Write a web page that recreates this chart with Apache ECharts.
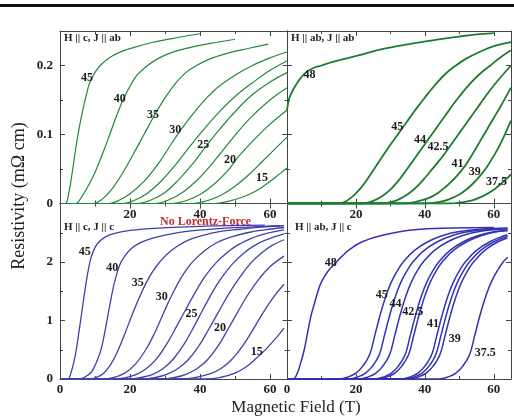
<!DOCTYPE html>
<html><head><meta charset="utf-8">
<script src="https://cdn.jsdelivr.net/npm/echarts@6/dist/echarts.min.js"></script>
<style>html,body{margin:0;padding:0;background:#fff}#c{width:514px;height:418px}</style>
</head><body><div id="c"></div>
<script>
// ---------------- DATA (field B in T, resistivity in mOhm cm) ----------------
// Top-left: H || c, J || ab
const tlNames = ['45','40','35','30','27.5','25','22.5','20','17.5','15'];
const tl45 = [[0,0],[1.5,0],[2.5,0.015],[3.5,0.045],[4.5,0.08],[5.5,0.11],[6.5,0.135],[7.5,0.157],[8.5,0.175],[10,0.19],[11.5,0.2],[14,0.211],[17,0.219],[21,0.226],[26,0.233],[32,0.239],[40,0.246]];
const tl40 = [[0,0],[4.5,0],[6,0.008],[8,0.025],[10,0.045],[12,0.07],[14,0.097],[16,0.125],[18,0.15],[20,0.17],[22,0.186],[25,0.2],[28,0.21],[32,0.219],[37,0.226],[43,0.232],[50,0.238]];
const tl35 = [[0,0],[9.5,0],[12,0.006],[15,0.022],[18,0.045],[21,0.072],[24,0.1],[27,0.128],[30,0.153],[33,0.174],[36,0.19],[39,0.2],[43,0.21],[48,0.218],[54,0.225],[59.5,0.231]];
const tl30 = [[0,0],[14,0],[17,0.005],[20,0.014],[24,0.032],[28,0.057],[32,0.088],[35,0.11],[38,0.13],[41,0.148],[45,0.168],[50,0.186],[55,0.2],[60,0.211],[65,0.22]];
const tl275 = [[0,0],[18,0],[21,0.004],[25,0.015],[29,0.033],[33,0.056],[37,0.082],[41,0.107],[45,0.13],[50,0.155],[55,0.175],[60,0.193],[65,0.207]];
const tl25 = [[0,0],[22,0],[26,0.005],[30,0.016],[34,0.035],[38,0.058],[42,0.085],[46,0.11],[50,0.133],[55,0.158],[60,0.176],[65,0.19]];
const tl225 = [[0,0],[27,0],[31,0.005],[35,0.016],[39,0.033],[43,0.055],[47,0.08],[51,0.105],[55,0.127],[60,0.15],[65,0.168]];
const tl20 = [[0,0],[32,0],[36,0.004],[40,0.013],[44,0.028],[48,0.048],[51,0.068],[55,0.09],[60,0.115],[65,0.136]];
const tl175 = [[0,0],[38,0],[42,0.004],[46,0.012],[50,0.025],[54,0.042],[58,0.062],[62,0.082],[65,0.097]];
const tl15 = [[0,0],[44,0],[48,0.003],[52,0.009],[56,0.018],[60,0.032],[63,0.044],[65,0.052]];
const tlLabelText = ['45','40','35','30','25','20','15'];
const tlLabelAt = [[7.7,0.182],[17.1,0.151],[26.6,0.128],[32.9,0.107],[40.9,0.085],[48.6,0.063],[57.7,0.037]];

// Top-right: H || ab, J || ab
const trNames = ['48','45','44','42.5','41','39','37.5'];
const tr48 = [[0,0.135],[0.5,0.15],[1,0.157],[2,0.167],[3,0.175],[4,0.182],[5.5,0.19],[7.5,0.196],[10,0.2],[13,0.205],[17,0.21],[21,0.215],[26,0.222],[32,0.228],[38,0.233],[44,0.238],[50,0.242],[55,0.245],[60,0.247]];
const tr45 = [[0,0],[15,0],[17,0.003],[19,0.01],[21,0.02],[23,0.033],[25,0.048],[27,0.063],[29,0.078],[31,0.092],[33,0.106],[35,0.12],[37,0.134],[39,0.147],[41,0.16],[43,0.172],[46,0.188],[49,0.2],[52,0.21],[56,0.22],[60,0.228],[65,0.234]];
const tr44 = [[0,0],[22,0],[24,0.002],[26,0.006],[28,0.012],[30,0.02],[32,0.031],[34,0.044],[36,0.058],[38,0.072],[40,0.086],[42,0.1],[44,0.114],[46,0.128],[48,0.142],[50,0.155],[53,0.173],[56,0.188],[59,0.2],[62,0.212],[65,0.222]];
const tr425 = [[0,0],[28,0],[30,0.002],[32,0.005],[34,0.01],[36,0.017],[38,0.026],[40,0.037],[42,0.049],[44,0.061],[46,0.074],[48,0.088],[50,0.102],[52,0.116],[54,0.13],[56,0.144],[58,0.158],[60,0.171],[62,0.183],[65,0.2]];
const tr41 = [[0,0],[34,0],[37,0.002],[40,0.006],[42,0.01],[44,0.016],[46,0.024],[48,0.033],[50,0.044],[52,0.057],[54,0.073],[56,0.09],[58,0.107],[60,0.124],[62,0.141],[65,0.168]];
const tr39 = [[0,0],[40,0],[44,0.002],[47,0.006],[50,0.013],[52,0.02],[54,0.029],[56,0.04],[58,0.053],[60,0.069],[62,0.087],[65,0.12]];
const tr375 = [[0,0],[47,0],[51,0.002],[54,0.005],[57,0.011],[60,0.02],[62,0.028],[65,0.042]];
const trLabelText = ['48','45','44','42.5','41','39','37.5'];
const trLabelAt = [[6.5,0.186],[32,0.111],[38.6,0.092],[43.8,0.082],[49.5,0.058],[54.5,0.046],[60.8,0.032]];

// Bottom-left: H || c, J || c
const blNames = ['45','40','35','30','27.5','25','22.5','20','17.5','15'];
const bl45 = [[0,0],[2.3,0],[3,0.08],[4,0.3],[4.7,0.52],[5.4,0.8],[6.1,1.09],[6.8,1.38],[7.5,1.66],[8.2,1.9],[8.9,2.08],[9.8,2.22],[10.9,2.33],[13,2.43],[15.6,2.49],[20,2.54],[28,2.58],[40,2.61],[58.5,2.63]];
const bl40 = [[0,0],[5,0],[7,0.03],[9,0.12],[10.5,0.3],[11.8,0.52],[12.8,0.8],[13.7,1.09],[14.6,1.38],[15.6,1.66],[17,1.94],[18.5,2.1],[20.4,2.23],[23,2.33],[26,2.4],[30,2.46],[35.6,2.52],[45,2.57],[55,2.6],[63,2.62]];
const bl35 = [[0,0],[8.5,0],[10.5,0.03],[12.5,0.1],[14.5,0.25],[16.5,0.48],[18.5,0.77],[20.5,1.08],[22.5,1.37],[24.5,1.63],[26.5,1.84],[28.5,2.0],[30.5,2.13],[33.5,2.27],[36.5,2.37],[40.5,2.45],[45.5,2.52],[51.5,2.56],[58.5,2.6],[64,2.62]];
const bl30 = [[0,0],[12.5,0],[15.5,0.03],[18.5,0.1],[21.5,0.25],[24.5,0.5],[26.5,0.72],[28.5,0.98],[30.5,1.25],[32.5,1.5],[34.5,1.72],[36.5,1.9],[38.5,2.04],[41.5,2.2],[44.5,2.32],[48.5,2.42],[53.5,2.5],[58.5,2.55],[64,2.59]];
const bl275 = [[0,0],[15.5,0],[18.5,0.02],[21.5,0.07],[24.5,0.17],[27.5,0.34],[30.5,0.6],[33.5,0.92],[35.5,1.14],[37.5,1.36],[39.5,1.57],[41.5,1.76],[44.5,1.98],[47.5,2.15],[50.5,2.28],[54.5,2.4],[58.5,2.48],[64,2.55]];
const bl25 = [[0,0],[19.5,0],[23.5,0.03],[26.5,0.08],[29.5,0.18],[32.5,0.35],[35.5,0.6],[38.5,0.92],[40.5,1.15],[42.5,1.37],[44.5,1.58],[46.5,1.76],[49.5,1.98],[52.5,2.15],[55.5,2.28],[58.5,2.37],[64,2.48]];
const bl225 = [[0,0],[23.5,0],[27.5,0.03],[30.5,0.08],[33.5,0.17],[36.5,0.32],[39.5,0.55],[42.5,0.85],[45.5,1.17],[48.5,1.48],[51.5,1.75],[54.5,1.98],[57.5,2.15],[60.5,2.28],[64,2.38]];
const bl20 = [[0,0],[29,0],[33,0.03],[36,0.08],[39,0.17],[42,0.32],[45,0.55],[48,0.85],[51,1.17],[54,1.47],[57,1.72],[60,1.92],[64,2.1]];
const bl175 = [[0,0],[35,0],[39,0.03],[43,0.09],[46,0.18],[49,0.33],[52,0.55],[55,0.83],[58,1.13],[61,1.4],[64,1.62]];
const bl15 = [[0,0],[42,0],[46,0.03],[50,0.1],[53,0.2],[56,0.35],[59,0.52],[62,0.72],[64,0.87]];
const blLabelText = ['45','40','35','30','25','20','15'];
const blLabelAt = [[7.1,2.18],[14.9,1.90],[22.2,1.65],[29.1,1.41],[37.6,1.12],[45.7,0.87],[56.2,0.47]];

// Bottom-right: H || ab, J || c
const brNames = ['48','45','44','42.5','41','41','39','39','39','37.5'];
const br48 = [[0,0],[1.8,0],[3,0.1],[4,0.28],[5,0.5],[6,0.8],[7,1.09],[8,1.3],[9,1.5],[10,1.66],[12,1.85],[14,1.98],[16,2.1],[18.3,2.22],[22,2.35],[28,2.46],[37,2.55],[48,2.58],[60,2.59]];
const br45 = [[0,0],[15,0],[18,0.04],[20,0.1],[22,0.22],[24,0.42],[25.5,0.75],[27,1.09],[28.7,1.42],[30.3,1.66],[32,1.85],[34,2.02],[37,2.2],[41,2.35],[45,2.45],[50,2.52],[56,2.56],[64,2.58]];
const br44 = [[0,0],[17.8,0],[20.8,0.04],[22.8,0.1],[24.8,0.22],[26.8,0.42],[28.3,0.75],[29.8,1.09],[31.5,1.42],[33.1,1.66],[34.8,1.85],[36.8,2.02],[39.8,2.2],[43.8,2.35],[47.8,2.45],[52.8,2.52],[58.8,2.56],[64,2.57]];
const br425 = [[0,0],[20.8,0],[23.8,0.04],[25.8,0.1],[27.8,0.22],[29.8,0.42],[31.3,0.75],[32.8,1.09],[34.5,1.42],[36.1,1.66],[37.8,1.85],[39.8,2.02],[42.8,2.2],[46.8,2.35],[50.8,2.45],[55.8,2.52],[61.8,2.56],[64,2.57]];
const br41a = [[0,0],[25.3,0],[28.3,0.04],[30.3,0.1],[32.3,0.22],[34.3,0.42],[35.8,0.75],[37.3,1.09],[39,1.42],[40.6,1.66],[42.3,1.85],[44.3,2.02],[47.3,2.2],[51.3,2.35],[55.3,2.45],[60.3,2.52],[64,2.54]];
const br41b = [[0,0],[26.3,0],[29.3,0.04],[31.3,0.1],[33.3,0.22],[35.3,0.42],[36.8,0.75],[38.3,1.09],[40,1.42],[41.6,1.66],[43.3,1.85],[45.3,2.02],[48.3,2.2],[52.3,2.35],[56.3,2.45],[61.3,2.52],[64,2.54]];
const br39a = [[0,0],[33,0],[36,0.04],[38,0.1],[40,0.22],[42,0.42],[43.5,0.75],[45,1.09],[46.7,1.42],[48.3,1.66],[50,1.85],[52,2.02],[55,2.2],[59,2.35],[63,2.45],[64,2.46]];
const br39b = [[0,0],[34.2,0],[37.2,0.04],[39.2,0.1],[41.2,0.22],[43.2,0.42],[44.7,0.75],[46.2,1.09],[47.9,1.42],[49.5,1.66],[51.2,1.85],[53.2,2.02],[56.2,2.2],[60.2,2.35],[64,2.44]];
const br39c = [[0,0],[35.4,0],[38.4,0.04],[40.4,0.1],[42.4,0.22],[44.4,0.42],[45.9,0.75],[47.4,1.09],[49.1,1.42],[50.7,1.66],[52.4,1.85],[54.4,2.02],[57.4,2.2],[61.4,2.35],[64,2.41]];
const br375 = [[0,0],[44,0],[47,0.04],[49,0.1],[51,0.22],[53,0.42],[54.5,0.75],[56,1.09],[57.7,1.42],[59.3,1.66],[61,1.85],[63,2.02],[64,2.08]];
const brLabelText = ['48','45','44','42.5','41','39','37.5'];
const brLabelAt = [[12.7,1.98],[27.5,1.44],[31.5,1.29],[36.5,1.14],[42.4,0.94],[48.7,0.68],[57.5,0.44]];

// axis tick labels
const xTicksTop = [20, 40, 60];
const xTicksBottom = [0, 20, 40, 60];
const yTicksTop = [0, 0.1, 0.2];
const yTicksBottom = [0, 1, 2];

// ---------------- LAYOUT / STYLE ----------------
const SERIF = '"Liberation Serif","DejaVu Serif",serif';
const AX = '#444';
const GREEN = '#22883a', GREEN2 = '#1a7d30', BLUE = '#4040ad', BLUE2 = '#3333b3';

const panels = [
  {grid:{left:60, top:31, width:227.5, height:172.5}, ymax:0.25, yint:0.1, top:true, left:true,
   curves:[tl45,tl40,tl35,tl30,tl275,tl25,tl225,tl20,tl175,tl15], names:tlNames, color:GREEN, lw:1.2,
   lt:tlLabelText, la:tlLabelAt},
  {grid:{left:287, top:31, width:229.5, height:172.5}, ymax:0.25, yint:0.1, top:true, left:false,
   curves:[tr48,tr45,tr44,tr425,tr41,tr39,tr375], names:trNames, color:GREEN2, lw:1.8,
   lt:trLabelText, la:trLabelAt},
  {grid:{left:60, top:203.5, width:227.5, height:175.5}, ymax:3, yint:1, top:false, left:true,
   curves:[bl45,bl40,bl35,bl30,bl275,bl25,bl225,bl20,bl175,bl15], names:blNames, color:BLUE, lw:1.3,
   lt:blLabelText, la:blLabelAt},
  {grid:{left:287, top:203.5, width:229.5, height:175.5}, ymax:3, yint:1, top:false, left:false,
   curves:[br48,br45,br44,br425,br41a,br41b,br39a,br39b,br39c,br375], names:brNames, color:BLUE2, lw:1.5,
   lt:brLabelText, la:brLabelAt}
];

const grids = [], xAxes = [], yAxes = [], series = [];
const tickCommon = (inside) => ({show:true, inside:inside, length:5, lineStyle:{color:AX, width:1}});
panels.forEach((p, i) => {
  grids.push(p.grid);
  const xShown = p.top ? xTicksTop : xTicksBottom;
  const yShown = p.top ? yTicksTop : yTicksBottom;
  xAxes.push({gridIndex:i, type:'value', min:0, max:65, interval:20, position:'bottom',
    axisLine:{show:true, onZero:false, lineStyle:{color:AX, width:1}},
    axisTick:tickCommon(true),
    minorTick:{show:true, splitNumber:2, length:3, lineStyle:{color:AX, width:1}},
    splitLine:{show:false}, minorSplitLine:{show:false},
    axisLabel:{show:true, margin:p.top ? 5 : 4, fontFamily:SERIF, fontSize:13, fontWeight:'bold', color:'#222',
      formatter:(v) => xShown.indexOf(v) >= 0 ? String(v) : ''}});
  yAxes.push({gridIndex:i, type:'value', min:0, max:p.ymax, interval:p.yint, position:'left',
    axisLine:{show:true, onZero:false, lineStyle:{color:AX, width:1}},
    axisTick:tickCommon(true),
    minorTick:{show:true, splitNumber:2, length:3, lineStyle:{color:AX, width:1}},
    splitLine:{show:false}, minorSplitLine:{show:false},
    axisLabel:{show:p.left, margin:7, fontFamily:SERIF, fontSize:13, fontWeight:'bold', color:'#222',
      formatter:(v) => { const r = Math.round(v*100)/100; return yShown.indexOf(r) >= 0 ? String(r) : ''; }}});
});
panels.forEach((p, i) => {
  xAxes.push({gridIndex:i, type:'value', min:0, max:65, interval:20, position:'top',
    axisLine:{show:true, onZero:false, lineStyle:{color:AX, width:1}},
    axisTick:tickCommon(true),
    minorTick:{show:true, splitNumber:2, length:3, lineStyle:{color:AX, width:1}},
    splitLine:{show:false}, axisLabel:{show:false}});
  yAxes.push({gridIndex:i, type:'value', min:0, max:p.ymax, interval:p.yint, position:'right',
    axisLine:{show:true, onZero:false, lineStyle:{color:AX, width:1}},
    axisTick:tickCommon(true),
    minorTick:{show:true, splitNumber:2, length:3, lineStyle:{color:AX, width:1}},
    splitLine:{show:false}, axisLabel:{show:false}});
});

panels.forEach((p, i) => {
  p.curves.forEach((d, k) => {
    series.push({type:'line', name:p.names[k] + ' K', xAxisIndex:i, yAxisIndex:i, data:d,
      showSymbol:false, symbol:'none', smooth:0.4, silent:true,
      lineStyle:{color:p.color, width:p.lw}, clip:true, z:2});
  });
  series.push({type:'scatter', xAxisIndex:i, yAxisIndex:i, symbol:'circle', symbolSize:1, silent:true,
    itemStyle:{color:'rgba(255,255,255,0)'},
    data:p.la.map((c, k) => ({value:c, name:p.lt[k]})),
    label:{show:true, position:'inside', formatter:'{b}', fontFamily:SERIF, fontSize:12,
      fontWeight:'bold', color:'#1a1a1a', opacity:1}, z:5});
});

function txt(x, y, s, font, fill, extra) {
  return {type:'text', x:x, y:y, z:10, silent:true,
    style:Object.assign({text:s, font:font, fill:fill||'#222', textAlign:'left', align:'left',
      textVerticalAlign:'middle', verticalAlign:'middle'}, (extra||{}))};
}
const yTitle = txt(19, 196, 'Resistivity (m\u03A9 cm)', '18px ' + SERIF, '#222', {textAlign:'center', align:'center'});
yTitle.rotation = Math.PI/2;
const graphics = [
  {type:'rect', shape:{x:0, y:4, width:514, height:3}, style:{fill:'#111'}, z:10, silent:true},
  txt(64, 38, 'H || c, J || ab', 'bold 11px ' + SERIF, '#222'),
  txt(291, 38, 'H || ab, J || ab', 'bold 11px ' + SERIF, '#222'),
  txt(64, 227, 'H || c, J || c', 'bold 11px ' + SERIF, '#222'),
  txt(295, 227, 'H || ab, J || c', 'bold 11px ' + SERIF, '#222'),
  txt(160, 222, 'No Lorentz-Force', 'bold 12px ' + SERIF, '#c62a2f'),
  txt(296, 408, 'Magnetic Field (T)', '17px ' + SERIF, '#222', {textAlign:'center', align:'center'}),
  yTitle
];

const chart = echarts.init(document.getElementById('c'), null, {renderer:'canvas'});
chart.setOption({
  animation:false, backgroundColor:'#fff',
  grid:grids, xAxis:xAxes, yAxis:yAxes, series:series, graphic:graphics
});
</script></body></html>
